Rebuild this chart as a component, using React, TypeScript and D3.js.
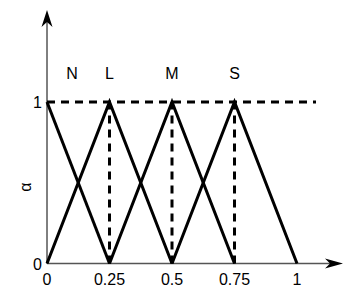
import * as d3 from "d3";

const xTicks = [0, 0.25, 0.5, 0.75, 1];
const xTickLabels = ["0", "0.25", "0.5", "0.75", "1"];
const yTicks = [0, 1];
const setNames = ["N", "L", "M", "S"];
const setPeaks = [0, 0.25, 0.5, 0.75];
// membership triangles as [x, alpha] vertices
const sets = [
  [[0, 1], [0.25, 0]],
  [[0, 0], [0.25, 1], [0.5, 0]],
  [[0.25, 0], [0.5, 1], [0.75, 0]],
  [[0.5, 0], [0.75, 1], [1, 0]],
];
const dashedX = [0.25, 0.5, 0.75];

export default function App() {
  const width = 355;
  const height = 297;
  const x = d3.scaleLinear().domain([0, 1]).range([47, 297]);
  const y = d3.scaleLinear().domain([0, 1]).range([263.5, 102]);
  const line = d3
    .line<number[]>()
    .x((d) => x(d[0]))
    .y((d) => y(d[1]));
  const font = "Liberation Sans, Arial, sans-serif";

  const x0 = x(0);
  const y0 = y(0);
  const yTop = 10;
  const xEnd = 343;

  return (
    <svg
      width={width}
      height={height}
      style={{ position: "absolute", left: 0, top: 0, background: "#fff" }}
      fontFamily={font}
    >
      {/* axes */}
      <line x1={x0} y1={y0} x2={xEnd - 8} y2={y0} stroke="#555" strokeWidth={1.5} />
      <line x1={x0} y1={y0} x2={x0} y2={yTop + 8} stroke="#000" strokeWidth={1} />
      <path
        d={`M${x0},${yTop} L${x0 + 5.5},${yTop + 17} L${x0},${yTop + 12} L${x0 - 5.5},${yTop + 17} Z`}
        fill="#000"
      />
      <path
        d={`M${xEnd},${y0} L${xEnd - 18},${y0 - 5} L${xEnd - 13},${y0} L${xEnd - 18},${y0 + 5} Z`}
        fill="#000"
      />

      {/* dashed guides */}
      <line
        x1={x0}
        y1={y(1)}
        x2={316}
        y2={y(1)}
        stroke="#000"
        strokeWidth={3}
        strokeDasharray="8,6"
      />
      {dashedX.map((v) => (
        <line
          key={v}
          x1={x(v)}
          x2={x(v)}
          y1={y(0)}
          y2={y(1)}
          stroke="#000"
          strokeWidth={3}
          strokeDasharray="8,6"
        />
      ))}

      {/* membership functions */}
      {sets.map((pts, i) => (
        <path
          key={i}
          d={line(pts) ?? ""}
          fill="none"
          stroke="#000"
          strokeWidth={3}
          strokeLinejoin="miter"
        />
      ))}

      {/* tick labels */}
      {xTicks.map((v, i) => (
        <text key={v} x={x(v)} y={285} fontSize={16} textAnchor="middle">
          {xTickLabels[i]}
        </text>
      ))}
      {yTicks.map((v) => (
        <text key={v} x={42} y={y(v) + 6} fontSize={16} textAnchor="end">
          {v}
        </text>
      ))}
      <text
        transform="translate(31,187) rotate(-90)"
        fontSize={16}
        textAnchor="middle"
      >
        α
      </text>

      {/* set labels */}
      {setNames.map((n, i) => (
        <text
          key={n}
          x={i === 0 ? 72 : x(setPeaks[i])}
          y={79}
          fontSize={16}
          textAnchor="middle"
        >
          {n}
        </text>
      ))}
    </svg>
  );
}
